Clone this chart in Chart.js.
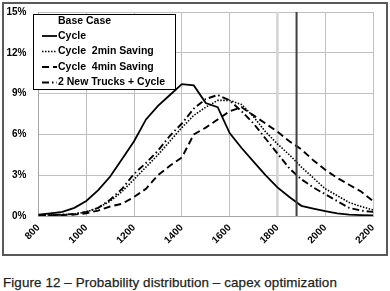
<!DOCTYPE html>
<html lang="en">
<head>
<meta charset="UTF-8">
<title>Figure 12 – Probability distribution – capex optimization</title>
<script src="https://cdn.jsdelivr.net/npm/chart.js"></script>
<style>
  body { margin: 0; width: 390px; height: 291px; background: #fff; position: relative; overflow: hidden; }
  .frame { position: absolute; left: 2px; top: 2px; width: 382px; height: 250px; border: 2px solid #595959; }
  .caption { position: absolute; left: 3px; top: 275px; font: 13.4px "Liberation Sans", Arial, sans-serif; letter-spacing: 0.1px; color: #231f20; -webkit-text-stroke: 0.25px #231f20; white-space: nowrap; }
</style>
</head>
<body>
<div class="frame"><canvas id="capexChart" width="382" height="250"></canvas></div>
<div class="caption">Figure 12 – Probability distribution – capex optimization</div>

<script>
    // capex values (x) and probability in % for each case
    const capex = [800, 850, 900, 950, 1000, 1050, 1100, 1150, 1200, 1250, 1300, 1350, 1400, 1450, 1500,
                   1550, 1600, 1650, 1700, 1750, 1800, 1850, 1900, 1950, 2000, 2050, 2100, 2150, 2200];
    const cycle     = [0.1, 0.2, 0.3, 0.6, 1.1, 1.9, 2.9, 4.2, 5.5, 7.1, 8.1, 8.9, 9.7, 9.6, 8.3,
                       8.0, 6.1, 5.0, 4.0, 3.0, 2.1, 1.4, 0.75, 0.55, 0.35, 0.2, 0.1, 0.07, 0.05];
    const saving2   = [0.05, 0.08, 0.1, 0.15, 0.3, 0.6, 1.1, 1.8, 2.7, 3.6, 4.5, 5.5, 6.5, 7.4, 8.0,
                       8.5, 8.5, 8.2, 7.3, 6.2, 5.3, 4.5, 3.6, 2.8, 2.0, 1.5, 1.0, 0.7, 0.45];
    const saving4   = [0.03, 0.05, 0.07, 0.1, 0.2, 0.4, 0.7, 0.9, 1.4, 2.0, 3.0, 3.7, 4.3, 6.0, 6.5,
                       7.1, 7.7, 8.0, 7.4, 6.8, 6.2, 5.5, 4.9, 4.1, 3.4, 2.8, 2.3, 1.8, 1.1];
    const newTrucks = [0.05, 0.07, 0.1, 0.15, 0.3, 0.6, 1.2, 2.0, 3.1, 3.9, 4.8, 5.9, 6.8, 7.9, 8.6,
                       8.9, 8.5, 7.7, 6.8, 5.7, 4.6, 3.5, 2.7, 2.1, 1.6, 1.1, 0.6, 0.4, 0.3];

    const seriesNames = ['Cycle', 'Cycle  2min Saving', 'Cycle  4min Saving', '2 New Trucks + Cycle'];
    const legendTitle = 'Base Case';
    const xTicks = [800, 1000, 1200, 1400, 1600, 1800, 2000, 2200];
    const yTicks = [0, 3, 6, 9, 12, 15];
    const markerCapex = 1880;   // dark vertical line
    const shadeCapex = 1800;    // light vertical line

    const boldFont = { family: '"Liberation Sans", Arial, sans-serif', size: 10, weight: 'bold' };

    function toPoints(values) {
        return values.map((v, i) => ({ x: capex[i], y: v }));
    }

    function lineSet(label, values, dash, width) {
        return {
            label: label,
            data: toPoints(values),
            borderColor: '#000',
            borderWidth: width,
            borderDash: dash,
            pointRadius: 0,
            tension: 0,
            fill: false
        };
    }

    // vertical reference lines
    const markerPlugin = {
        id: 'markers',
        beforeDatasetsDraw(chart) {
            const { ctx, chartArea, scales } = chart;
            const xs = scales.x.getPixelForValue(shadeCapex);
            ctx.save();
            ctx.strokeStyle = '#d4d4d4';
            ctx.lineWidth = 2.5;
            ctx.beginPath();
            ctx.moveTo(xs, chartArea.top);
            ctx.lineTo(xs, chartArea.bottom);
            ctx.stroke();
            ctx.restore();
        },
        afterDatasetsDraw(chart) {
            const { ctx, chartArea, scales } = chart;
            const xm = scales.x.getPixelForValue(markerCapex);
            ctx.save();
            ctx.strokeStyle = '#404040';
            ctx.lineWidth = 2;
            ctx.beginPath();
            ctx.moveTo(xm, chartArea.top);
            ctx.lineTo(xm, chartArea.bottom);
            ctx.stroke();
            ctx.restore();
        }
    };

    // boxed legend inside the plot, like the original
    const boxLegend = {
        id: 'boxLegend',
        afterDraw(chart) {
            const ctx = chart.ctx;
            ctx.save();
            ctx.fillStyle = '#fff';
            ctx.fillRect(29.5, 10.5, 142, 75);
            ctx.strokeStyle = '#000';
            ctx.lineWidth = 1;
            ctx.strokeRect(29.5, 10.5, 142, 75);

            ctx.font = 'bold 10.5px "Liberation Sans", Arial, sans-serif';
            ctx.fillStyle = '#000';
            ctx.textBaseline = 'middle';
            ctx.fillText(legendTitle, 54, 17.5);

            chart.data.datasets.forEach((ds, i) => {
                const y = 32 + i * 15.5;
                ctx.strokeStyle = ds.borderColor;
                ctx.lineWidth = ds.borderWidth;
                ctx.setLineDash(ds.borderDash || []);
                ctx.beginPath();
                ctx.moveTo(38, y);
                ctx.lineTo(53, y);
                ctx.stroke();
                ctx.setLineDash([]);
                ctx.fillText(ds.label, 54, y);
            });
            ctx.restore();
        }
    };

    const ctx = document.getElementById('capexChart').getContext('2d');
    const chart = new Chart(ctx, {
        type: 'line',
        data: {
            datasets: [
                lineSet(seriesNames[0], cycle, [], 1.8),
                lineSet(seriesNames[1], saving2, [1.5, 1.5], 1.6),
                lineSet(seriesNames[2], saving4, [7, 4], 1.9),
                lineSet(seriesNames[3], newTrucks, [7, 3, 1.5, 3], 1.9)
            ]
        },
        options: {
            responsive: false,
            animation: false,
            layout: { padding: { top: 8, right: 13, left: 0, bottom: 0 } },
            plugins: {
                legend: { display: false },
                tooltip: { enabled: false }
            },
            scales: {
                x: {
                    type: 'linear',
                    min: xTicks[0],
                    max: xTicks[xTicks.length - 1],
                    afterBuildTicks: s => { s.ticks = xTicks.map(v => ({ value: v })); },
                    afterFit: s => { s.height = 38; s.paddingLeft = 0; s.paddingRight = 0; },
                    ticks: { minRotation: 45, maxRotation: 45, padding: 6, color: '#000', font: boldFont,
                             callback: v => String(v) },
                    grid: { color: '#c0c0c0', drawTicks: false },
                    border: { color: '#a6a6a6' }
                },
                y: {
                    min: yTicks[0],
                    max: yTicks[yTicks.length - 1],
                    afterBuildTicks: s => { s.ticks = yTicks.map(v => ({ value: v })); },
                    afterFit: s => { s.width = 34.5; s.paddingTop = 0; s.paddingBottom = 0; },
                    ticks: { padding: 12, color: '#000', font: boldFont, callback: v => v + '%' },
                    grid: { color: '#c0c0c0', drawTicks: false },
                    border: { color: '#a6a6a6' }
                }
            }
        },
        plugins: [markerPlugin, boxLegend]
    });
</script>
</body>
</html>
